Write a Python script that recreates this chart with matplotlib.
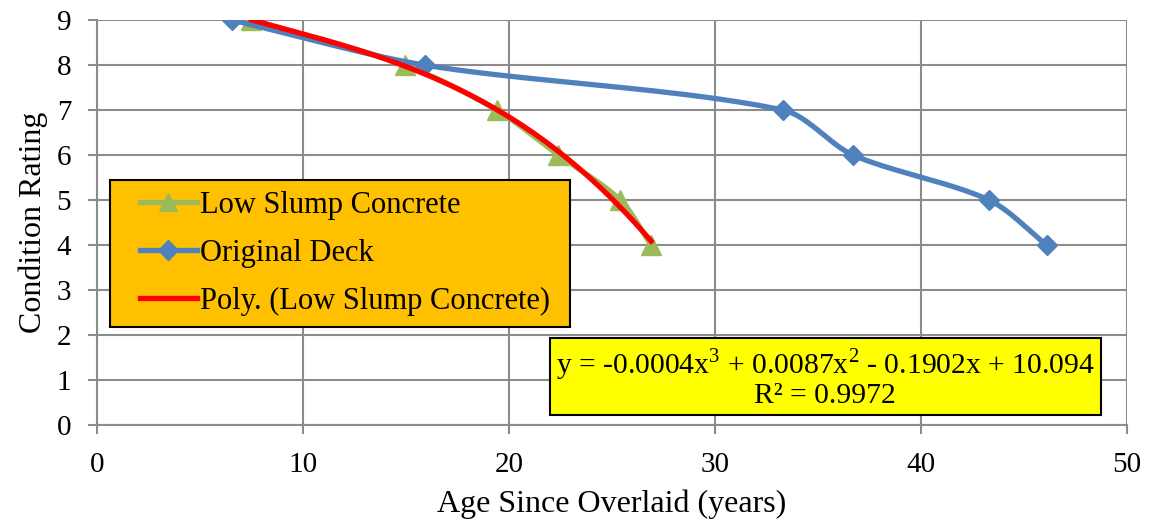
import matplotlib
matplotlib.use("Agg")
import matplotlib.pyplot as plt
from matplotlib.patches import Rectangle
import numpy as np

# data
low_slump_age = [7.5, 14.95, 19.4, 22.4, 25.4, 26.9]
low_slump_rating = [9, 8, 7, 6, 5, 4]
original_age = [6.55, 15.9, 33.3, 36.7, 43.3, 46.1]
original_rating = [9, 8, 7, 6, 5, 4]

equation_text = "y = -0.0004x$^3$ + 0.0087x$^2$ - 0.1902x + 10.094\nR² = 0.9972"

plt.rcParams['font.family'] = ['Liberation Serif', 'DejaVu Serif']
plt.rcParams['mathtext.fontset'] = 'custom'
plt.rcParams['mathtext.rm'] = 'Liberation Serif'

GRID = '#8c8c8c'


def smooth(xs, ys, sx=20.6, sy=45.0, n=40, k=0.3):
    # smoothed line like Excel's: bezier segments, tangent along neighbours,
    # handle length tied to the segment length so short segments don't overshoot
    p = np.column_stack([np.asarray(xs) * sx, np.asarray(ys) * sy])
    m = len(p)
    tang = []
    for i in range(m):
        d = p[min(i + 1, m - 1)] - p[max(i - 1, 0)]
        tang.append(d / np.linalg.norm(d))
    out = []
    for i in range(m - 1):
        p1, p2 = p[i], p[i + 1]
        L = np.linalg.norm(p2 - p1)
        c1 = p1 + tang[i] * L * k
        c2 = p2 - tang[i + 1] * L * k
        t = np.linspace(0, 1, n)[:, None]
        seg = ((1 - t) ** 3 * p1 + 3 * (1 - t) ** 2 * t * c1
               + 3 * (1 - t) * t ** 2 * c2 + t ** 3 * p2)
        out.append(seg if i == 0 else seg[1:])
    out = np.vstack(out)
    return out[:, 0] / sx, out[:, 1] / sy


fig = plt.figure(figsize=(11.53, 5.28), dpi=100)
ax = fig.add_axes([0.0841, 0.195, 0.8934, 0.767])

green = '#9BBB59'
blue = '#4F81BD'

gx, gy = smooth(low_slump_age, low_slump_rating)
ax.plot(gx, gy, color=green, lw=3.8, zorder=3)
ax.plot(low_slump_age, low_slump_rating, ls='none', marker='^', ms=15,
        color=green, zorder=3)
ax.plot([], [], color=green, lw=3.8, marker='^', ms=13, label='Low Slump Concrete')

bx, by = smooth(original_age, original_rating)
ax.plot(bx, by, color=blue, lw=3.8, zorder=4)
ax.plot(original_age, original_rating, ls='none', marker='D', ms=10,
        color=blue, zorder=4)
ax.plot([], [], color=blue, lw=3.8, marker='D', ms=10, label='Original Deck')

# cubic trendline fitted to the low slump series
coef = np.polyfit(low_slump_age, low_slump_rating, 3)
tx = np.linspace(min(low_slump_age), max(low_slump_age), 200)
ax.plot(tx, np.polyval(coef, tx), color='red', lw=3.8, zorder=5,
        label='Poly. (Low Slump Concrete)')

ax.set_xlim(0, 50)
ax.set_ylim(0, 9)
ax.set_xticks(range(0, 51, 10))
ax.set_yticks(range(0, 10))
ax.grid(True, color=GRID, lw=1.5)
ax.set_axisbelow(True)
for s in ['top', 'right']:
    ax.spines[s].set_visible(False)
for s in ['left', 'bottom']:
    ax.spines[s].set_color(GRID)
    ax.spines[s].set_linewidth(1.5)
ax.tick_params(axis='both', colors=GRID, length=6.5, width=1.5,
               labelsize=21, labelcolor='black')
ax.tick_params(axis='x', pad=13)
ax.tick_params(axis='y', pad=12)
ax.set_xlabel('Age Since Overlaid (years)', fontsize=23, labelpad=8)
ax.set_ylabel('Condition Rating', fontsize=23, labelpad=6)

# legend box drawn by hand so the inner padding matches
box = Rectangle((0.0126, 0.242), 0.4466, 0.363, transform=ax.transAxes,
                facecolor='#FFC000', edgecolor='black', lw=1.5, zorder=6)
ax.add_patch(box)
leg = ax.legend(loc='center left', bbox_to_anchor=(0.0417, 0.4235),
                fontsize=22, frameon=False, handlelength=1.87,
                handletextpad=0.1, borderpad=0, labelspacing=0.62,
                borderaxespad=0)
leg.set_zorder(7)

ax.text(0.707, 0.116, equation_text, transform=ax.transAxes, fontsize=21.3,
        ha='center', va='center', linespacing=1.0, zorder=6,
        bbox=dict(boxstyle='square,pad=0.2', facecolor='#FFFF00',
                  edgecolor='black', linewidth=1.5))

fig.savefig('out.png', dpi=100)
